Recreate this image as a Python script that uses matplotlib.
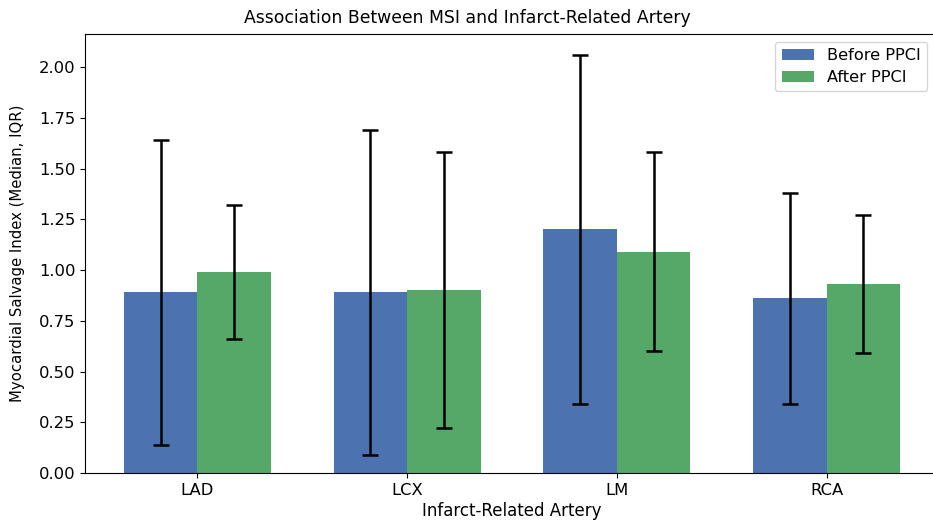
import matplotlib
matplotlib.use("Agg")
import matplotlib.pyplot as plt
import numpy as np

categories = ["LAD", "LCX", "LM", "RCA"]
before_median = [0.89, 0.89, 1.20, 0.86]
before_q1 = [0.14, 0.09, 0.34, 0.34]
before_q3 = [1.64, 1.69, 2.06, 1.38]
after_median = [0.99, 0.90, 1.09, 0.93]
after_q1 = [0.66, 0.22, 0.60, 0.59]
after_q3 = [1.32, 1.58, 1.58, 1.27]

fig = plt.figure(figsize=(9.33, 5.2), dpi=100)
ax = fig.add_axes([85/933, 47/520, (939-85)/933, (473-34)/520])

x = np.arange(len(categories))
w = 0.35
bm = np.array(before_median); am = np.array(after_median)
berr = [bm - np.array(before_q1), np.array(before_q3) - bm]
aerr = [am - np.array(after_q1), np.array(after_q3) - am]

ax.bar(x - w/2, bm, w, color="#4C72B0", label="Before PPCI",
       yerr=berr, capsize=6, error_kw=dict(elinewidth=1.8, capthick=1.8, ecolor="black"))
ax.bar(x + w/2, am, w, color="#55A868", label="After PPCI",
       yerr=aerr, capsize=6, error_kw=dict(elinewidth=1.8, capthick=1.8, ecolor="black"))

ax.set_xticks(x)
ax.set_xticklabels(categories, fontsize=11.8)
ax.tick_params(axis="y", labelsize=11.8)
ax.set_xlabel("Infarct-Related Artery", fontsize=12, labelpad=3)
ax.set_ylabel("Myocardial Salvage Index (Median, IQR)", fontsize=10.7)
ax.yaxis.set_label_coords((25 - 85) / 854, 0.5)
ax.set_title("Association Between MSI and Infarct-Related Artery", fontsize=12.4,
             x=(467 - 85) / 854, pad=8)
ax.legend(fontsize=11.6, loc="upper right", bbox_to_anchor=((927 - 85) / 854, 1 - 8 / 439),
          borderaxespad=0, labelspacing=0.4)

fig.savefig("out.png", dpi=100)
